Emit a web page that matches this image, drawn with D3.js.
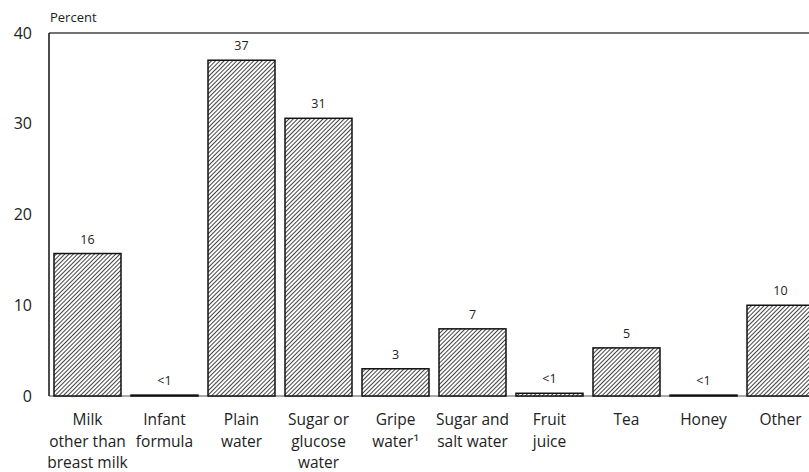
<!DOCTYPE html>
<html>
<head>
<meta charset="utf-8">
<script src="https://cdn.jsdelivr.net/npm/d3@7"></script>
<style>
  body { margin: 0; background: #fff; }
  text { font-family: "Open Sans", "DejaVu Sans", sans-serif; fill: #222; }
</style>
</head>
<body>
<div class="vis"></div>
<script>
const categories = ["Milk", "Infant", "Plain", "Sugar", "Gripe", "SugarSalt", "Fruit", "Tea", "Honey", "Other"];
const labelLines = [
  ["Milk", "other than", "breast milk"],
  ["Infant", "formula"],
  ["Plain", "water"],
  ["Sugar or", "glucose", "water"],
  ["Gripe", "water\u00b9"],
  ["Sugar and", "salt water"],
  ["Fruit", "juice"],
  ["Tea"],
  ["Honey"],
  ["Other"]
];
const values = [15.7, 0.1, 37.0, 30.6, 3.0, 7.4, 0.3, 5.3, 0.1, 10.0];
const valueLabels = ["16", "<1", "37", "31", "3", "7", "<1", "5", "<1", "10"];
const yTicks = [0, 10, 20, 30, 40];

const width = 809, height = 472;
const svg = d3.select(".vis").append("svg")
  .attr("width", width).attr("height", height);

const defs = svg.append("defs");
const pat = defs.append("pattern")
  .attr("id", "hatch")
  .attr("patternUnits", "userSpaceOnUse")
  .attr("width", 3).attr("height", 3)
  .attr("patternTransform", "rotate(45)");
pat.append("rect").attr("width", 3).attr("height", 3).attr("fill", "#fff");
pat.append("line")
  .attr("x1", 0).attr("y1", 0).attr("x2", 0).attr("y2", 3)
  .attr("stroke", "#222").attr("stroke-width", 1.7);

const x = d3.scaleBand()
  .domain(categories)
  .range([49, 819])
  .paddingInner(0.13)
  .paddingOuter(0.065);

const y = d3.scaleLinear().domain([0, 40]).range([396, 33]);

// frame: top line and baseline
svg.append("line")
  .attr("x1", 49).attr("x2", width).attr("y1", y(40)).attr("y2", y(40))
  .attr("stroke", "#444").attr("stroke-width", 1.5);
svg.append("line")
  .attr("x1", 49).attr("x2", width).attr("y1", y(0)).attr("y2", y(0))
  .attr("stroke", "#555").attr("stroke-width", 1);

// bars
svg.append("g")
  .selectAll("rect")
  .data(values)
  .join("rect")
  .attr("x", (d, i) => x(categories[i]))
  .attr("y", d => y(d))
  .attr("width", x.bandwidth())
  .attr("height", d => y(0) - y(d))
  .attr("fill", "url(#hatch)")
  .attr("stroke", "#111")
  .attr("stroke-width", 1.5);

// left axis line
svg.append("line")
  .attr("x1", 49).attr("x2", 49).attr("y1", y(40)).attr("y2", y(0))
  .attr("stroke", "#111").attr("stroke-width", 1.5);

// y tick labels
svg.append("g")
  .selectAll("text")
  .data(yTicks)
  .join("text")
  .attr("x", 32)
  .attr("y", d => y(d))
  .attr("dy", "0.35em")
  .attr("text-anchor", "end")
  .style("font-size", "16px")
  .text(d => d);

svg.append("text")
  .attr("x", 50).attr("y", 22)
  .style("font-size", "13px")
  .text("Percent");

// value labels
svg.append("g")
  .selectAll("text")
  .data(values)
  .join("text")
  .attr("x", (d, i) => x(categories[i]) + x.bandwidth() / 2)
  .attr("y", d => y(d) - 10)
  .attr("text-anchor", "middle")
  .style("font-size", "12.5px")
  .text((d, i) => valueLabels[i]);

// category labels
const cat = svg.append("g")
  .selectAll("text")
  .data(labelLines)
  .join("text")
  .attr("text-anchor", "middle")
  .style("font-size", "15.5px");
cat.selectAll("tspan")
  .data((d, i) => d.map(t => ({ t, i })))
  .join("tspan")
  .attr("x", d => x(categories[d.i]) + x.bandwidth() / 2)
  .attr("y", (d, j) => 425 + j * 21.5)
  .text(d => d.t);
</script>
</body>
</html>
